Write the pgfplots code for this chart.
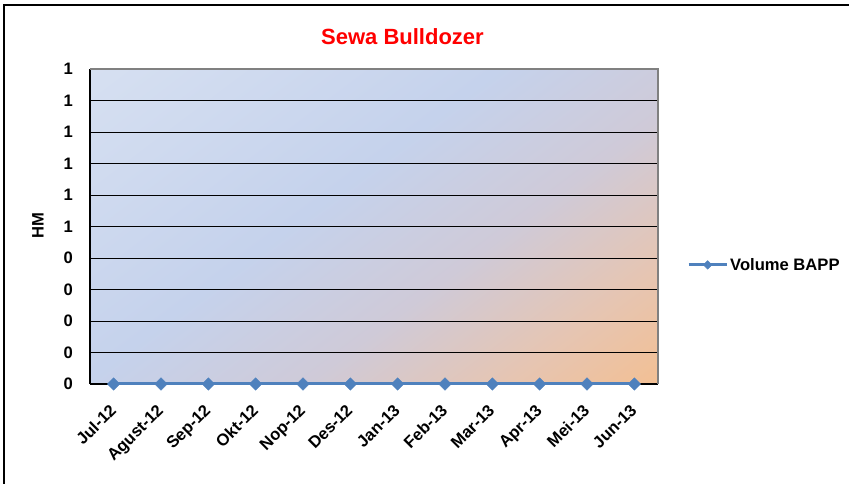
\documentclass[border=0pt]{standalone}
\usepackage{fontspec}
\setmainfont{Liberation Sans}
\usepackage{pgfplots}
\pgfplotsset{compat=1.18}
\definecolor{serblue}{HTML}{4F81BD}
\definecolor{bgA}{HTML}{DFE7F4}
\definecolor{bgB}{HTML}{C5D2EC}
\definecolor{bgC}{HTML}{CFCAD8}
\definecolor{bgD}{HTML}{E6C5B2}
\definecolor{bgE}{HTML}{F8BD86}
\pgfdeclarehorizontalshading{excelbg}{100bp}{color(0bp)=(bgA); color(44bp)=(bgB); color(60bp)=(bgC); color(74bp)=(bgD); color(90bp)=(bgE); color(100bp)=(bgE)}
\begin{document}
\begin{tikzpicture}[x=1pt,y=1pt]
\path[use as bounding box] (0,0) rectangle (849,484);
\draw[line width=2pt] (3.7,0) -- (3.7,479) -- (849,479);
\node[font=\fontsize{22}{26}\selectfont\bfseries, text=red] at (402.5,447) {Sewa Bulldozer};
\node[font=\fontsize{16.6}{19}\selectfont\bfseries, rotate=90] at (38,258) {HM};
\begin{axis}[
  at={(90pt,100pt)}, anchor=south west,
  scale only axis, width=568pt, height=315pt,
  xmin=-0.5, xmax=11.5, ymin=0, ymax=1,
  xtick={0,...,11},
  xticklabels={Jul-12,Agust-12,Sep-12,Okt-12,Nop-12,Des-12,Jan-13,Feb-13,Mar-13,Apr-13,Mei-13,Jun-13},
  ytick={0,0.1,0.2,0.3,0.4,0.5,0.6,0.7,0.8,0.9,1},
  yticklabels={0,0,0,0,0,1,1,1,1,1,1},
  major tick length=0pt,
  ymajorgrids, grid style={black, line width=0.9pt},
  axis x line*=bottom, axis y line*=left,
  axis line style={black, line width=1.2pt, -},
  axis background/.style={shade, shading=excelbg, shading angle=-53},
  tick label style={font=\fontsize{16.6}{19}\selectfont\bfseries},
  yticklabel style={anchor=east, inner sep=0pt, xshift=-17pt},
  xticklabel style={inner sep=0pt, xshift=-5pt, yshift=-19pt, rotate=45, anchor=north east},
  clip=false,
  legend style={at={(rel axis cs:1.051,0.378)}, anchor=west, draw=none, fill=none,
    font=\fontsize{16.6}{19}\selectfont\bfseries, inner sep=0pt, nodes={inner sep=2pt}},
  legend image code/.code={\draw[mark repeat=2,mark phase=2,#1, mark size=3pt] plot coordinates {(0pt,0pt) (19pt,0pt) (38pt,0pt)};},
]
\addplot[color=serblue, line width=3pt, mark=square*, mark size=4.4pt, mark options={rotate=45, line width=0.5pt, solid, fill=serblue}]
  coordinates {(0,0)(1,0)(2,0)(3,0)(4,0)(5,0)(6,0)(7,0)(8,0)(9,0)(10,0)(11,0)};
\addlegendentry{Volume BAPP}
\draw[gray, line width=1.5pt] (rel axis cs:0,1) -- (rel axis cs:1,1) -- (rel axis cs:1,0);
\end{axis}
\end{tikzpicture}
\end{document}
